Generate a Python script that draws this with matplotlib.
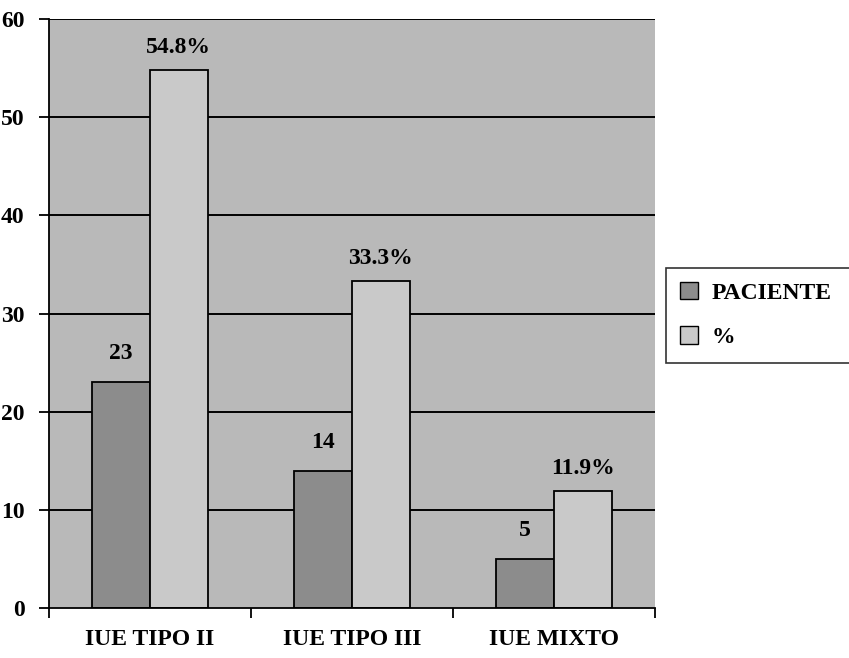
import matplotlib
matplotlib.use("Agg")
import matplotlib.pyplot as plt
from matplotlib.patches import Patch
import numpy as np

categories = ["IUE TIPO II", "IUE TIPO III", "IUE MIXTO"]
pacientes = [23, 14, 5]
porcentajes = [54.8, 33.3, 11.9]
pac_labels = ["23", "14", "5"]
pct_labels = ["54.8%", "33.3%", "11.9%"]
yticks = [0, 10, 20, 30, 40, 50, 60]
series_names = ["PACIENTE", "%"]

plt.rcParams['font.family'] = ['Liberation Serif', 'DejaVu Serif']
plt.rcParams['font.weight'] = 'bold'

fig = plt.figure(figsize=(8.49, 6.58), dpi=100)
ax = fig.add_axes([49/849, 50/658, (655-49)/849, (608-19)/658])

bg = "#b9b9b9"
c_pac = "#8c8c8c"
c_pct = "#c9c9c9"
ax.set_facecolor(bg)

x = np.arange(len(categories)) + 0.5
w = 0.285
ax.set_xlim(0, 3)
ax.set_ylim(0, 60)

for yv in yticks[1:]:
    ax.axhline(yv, color="black", lw=1.4, zorder=1)

ax.bar(x - w/2, pacientes, width=w, color=c_pac, edgecolor="black", lw=1.3, zorder=2)
ax.bar(x + w/2, porcentajes, width=w, color=c_pct, edgecolor="black", lw=1.3, zorder=2)

fs = 17
for xi, v, lab in zip(x - w/2, pacientes, pac_labels):
    ax.annotate(lab, (xi, v), xytext=(0, 13), textcoords="offset points",
                ha="center", va="bottom", fontsize=fs, fontweight="bold")
for xi, v, lab in zip(x + w/2, porcentajes, pct_labels):
    ax.annotate(lab, (xi, v), xytext=(0, 9), textcoords="offset points",
                ha="center", va="bottom", fontsize=fs, fontweight="bold")

ax.set_yticks(yticks)
ax.set_yticklabels([str(t) for t in yticks], fontsize=fs, fontweight="bold")
ax.tick_params(axis="y", length=7.5, width=1.3, pad=10)

ax.set_xticks(x)
ax.set_xticklabels(categories, fontsize=fs, fontweight="bold")
ax.set_xticks([0, 1, 2, 3], minor=True)
ax.tick_params(axis="x", which="major", length=0, pad=15)
ax.tick_params(axis="x", which="minor", length=7, width=1.3)

for s in ["top", "right"]:
    ax.spines[s].set_visible(False)
ax.spines["left"].set_linewidth(1.3)
ax.spines["bottom"].set_linewidth(1.3)

handles = [Patch(facecolor=c_pac, edgecolor="black", lw=1.0),
           Patch(facecolor=c_pct, edgecolor="black", lw=1.0)]
leg = fig.legend(handles, series_names, loc="upper left",
                 bbox_to_anchor=(666/849, 1 - 268/658 - 0.01, 200/849, 0.01),
                 mode="expand", fontsize=fs,
                 frameon=True, fancybox=False, edgecolor="black",
                 handlelength=0.75, handleheight=0.75, handletextpad=0.6,
                 borderpad=0.6, labelspacing=0.95, borderaxespad=0)
leg.get_frame().set_linewidth(1.2)
for t in leg.get_texts():
    t.set_fontweight("bold")

fig.savefig("out.png", dpi=100)
